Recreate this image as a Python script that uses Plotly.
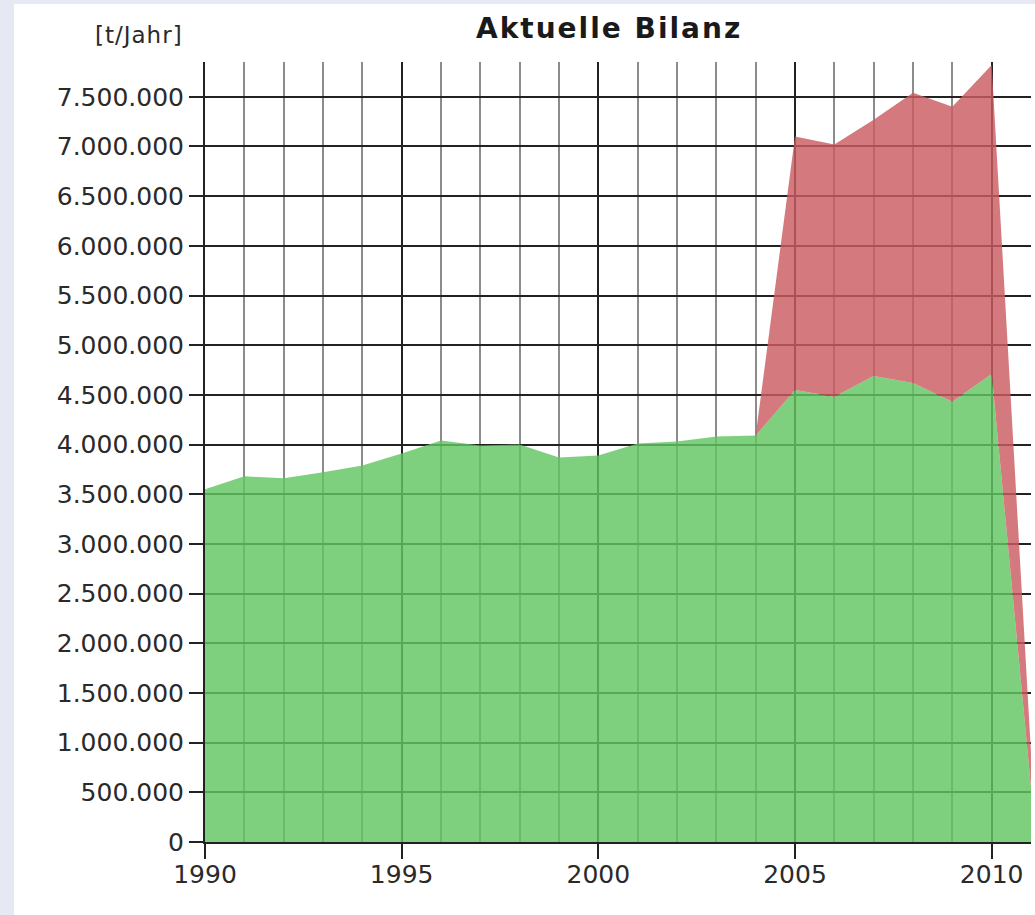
import plotly.graph_objects as go

years = list(range(1990, 2012))
green_vals = [3550000, 3680000, 3660000, 3720000, 3790000, 3910000, 4040000, 3990000,
              4000000, 3870000, 3890000, 4010000, 4030000, 4080000, 4090000, 4550000,
              4480000, 4690000, 4620000, 4430000, 4710000, 550000]
red_vals = [0, 0, 0, 0, 0, 0, 0, 0, 0, 0, 0, 0, 0, 0, 0, 2550000,
            2540000, 2580000, 2920000, 2970000, 3110000, 350000]

title_text = "Aktuelle Bilanz"
unit_text = "[t/Jahr]"

W, H = 1035, 915
ml, mr, mt, mb = 205, 4, 62, 73
pw = W - ml - mr
ph = H - mt - mb

fig = go.Figure()
fig.add_trace(go.Scatter(x=years, y=green_vals, stackgroup="s", mode="lines",
                         line=dict(width=0, color="rgba(98,198,98,0.82)"),
                         fillcolor="rgba(98,198,98,0.82)", showlegend=False))
fig.add_trace(go.Scatter(x=years, y=red_vals, stackgroup="s", mode="lines",
                         line=dict(width=0, color="rgba(202,93,98,0.82)"),
                         fillcolor="rgba(202,93,98,0.82)", showlegend=False))

tickfont = dict(family="DejaVu Sans", size=25, color="#2a2a2a")

fig.update_layout(
    width=W, height=H,
    margin=dict(l=ml, r=mr, t=mt, b=mb),
    paper_bgcolor="#e6e8f4",
    plot_bgcolor="white",
    separators=",.",
    showlegend=False,
    xaxis=dict(range=[1990, 2011], tick0=1990, dtick=5, ticks="outside", ticklen=15,
               tickwidth=2, tickcolor="#222", tickfont=tickfont, ticklabelstandoff=-6,
               showgrid=True, gridcolor="#222", gridwidth=2,
               showline=True, linecolor="#222", linewidth=2, zeroline=False,
               minor=dict(dtick=1, tick0=1990, showgrid=True, gridcolor="#8c8c8c", gridwidth=2, ticks=""),
               fixedrange=True),
    yaxis=dict(range=[0, 7850000], tick0=0, dtick=500000, tickformat=",d",
               ticks="outside", ticklen=14, tickwidth=2, tickcolor="#222", tickfont=tickfont,
               showgrid=True, gridcolor="#222", gridwidth=2,
               showline=True, linecolor="#222", linewidth=2, zeroline=False,
               fixedrange=True),
    shapes=[dict(type="rect", xref="paper", yref="paper", layer="below",
                 x0=(14 - ml) / pw, x1=1.2, y0=-0.5, y1=(H - mb - 4) / ph,
                 fillcolor="white", line=dict(width=0))],
    annotations=[
        dict(text='<b><span style="letter-spacing:2px">' + title_text + "</span></b>",
             xref="paper", yref="paper",
             x=(609 - ml) / pw, y=(H - mb - 29) / ph, xanchor="center", yanchor="middle",
             showarrow=False, font=dict(family="DejaVu Sans", size=28, color="#1a1a1a")),
        dict(text='<span style="letter-spacing:1px">' + unit_text + "</span>",
             xref="paper", yref="paper",
             x=(185 - ml) / pw, y=(H - mb - 35) / ph, xanchor="right", yanchor="middle",
             showarrow=False, font=dict(family="DejaVu Sans", size=23, color="#2a2a2a")),
    ],
)

fig.write_html("out.html", config={"displayModeBar": False},
               post_script="document.body.style.margin='0px';document.body.style.overflow='hidden';")
